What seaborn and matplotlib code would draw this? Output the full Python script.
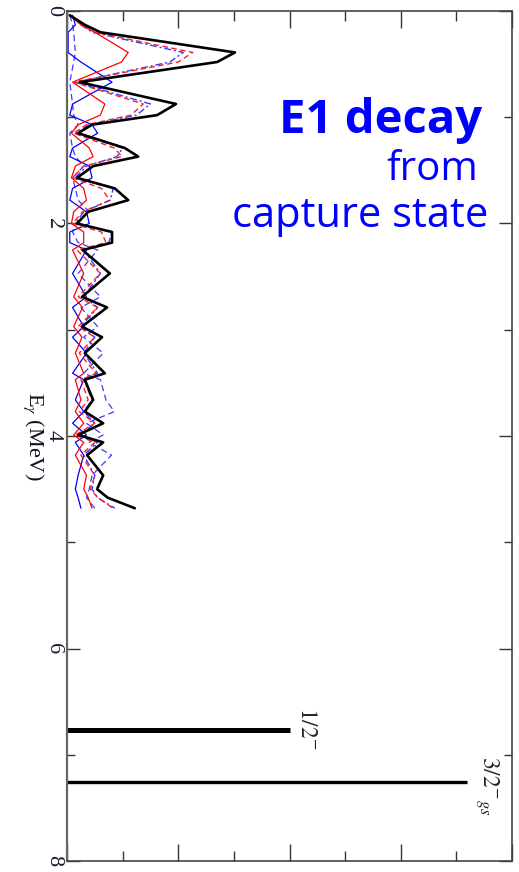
import matplotlib
matplotlib.use("Agg")
import matplotlib.pyplot as plt
import pandas as pd
import seaborn as sns
from matplotlib.ticker import MultipleLocator, FormatStrFormatter

sns.set_style("ticks")
plt.rcParams["font.family"] = ["Liberation Serif", "DejaVu Serif"]
plt.rcParams["mathtext.fontset"] = "stix"

# Gamma energies (MeV) at which the E1 strength components are tabulated
e_gamma = [0.04, 0.13, 0.20, 0.39, 0.48, 0.67, 0.875, 0.98, 1.07, 1.15,
           1.29, 1.37, 1.46, 1.57, 1.67, 1.78, 1.89, 2.00, 2.08, 2.18,
           2.25, 2.47, 2.69, 2.79, 2.97, 3.07, 3.22, 3.41, 3.47, 3.66,
           3.77, 3.88, 3.99, 4.06, 4.18, 4.37, 4.50, 4.58, 4.68]

# Total decay intensity (arb. units)
total = [0.05, 0.32, 0.60, 3.02, 2.70, 0.23, 1.96, 1.62, 0.45, 0.20,
         1.04, 1.28, 0.47, 0.18, 0.86, 1.10, 0.38, 0.18, 0.81, 0.81,
         0.28, 0.77, 0.27, 0.72, 0.27, 0.63, 0.32, 0.68, 0.32, 0.47,
         0.32, 0.65, 0.20, 0.65, 0.36, 0.65, 0.54, 0.73, 1.22]

# Partial contributions
red_solid = [0.05, 0.25, 0.50, 1.10, 0.98, 0.10, 0.68, 0.60, 0.20, 0.08,
             0.40, 0.47, 0.15, 0.08, 0.30, 0.35, 0.12, 0.08, 0.30, 0.30,
             0.10, 0.30, 0.12, 0.28, 0.12, 0.27, 0.15, 0.30, 0.15, 0.25,
             0.15, 0.30, 0.12, 0.30, 0.15, 0.35, 0.30, 0.38, 0.45]
red_dashed = [0.05, 0.28, 0.50, 2.26, 2.00, 0.12, 1.37, 1.15, 0.35, 0.12,
              0.85, 0.99, 0.30, 0.10, 0.62, 0.77, 0.28, 0.10, 0.62, 0.70,
              0.18, 0.60, 0.20, 0.55, 0.20, 0.50, 0.22, 0.52, 0.25, 0.38,
              0.22, 0.50, 0.15, 0.50, 0.25, 0.50, 0.42, 0.55, 0.83]
blue_solid = [0.10, 0.15, 0.02, 0.02, 0.25, 0.81, 0.10, 0.05, 0.45, 0.55,
              0.10, 0.05, 0.40, 0.45, 0.10, 0.05, 0.35, 0.40, 0.05, 0.05,
              0.35, 0.10, 0.35, 0.10, 0.30, 0.10, 0.35, 0.10, 0.30, 0.15,
              0.30, 0.10, 0.35, 0.15, 0.30, 0.20, 0.15, 0.20, 0.25]
blue_dashdot = [0.05, 0.25, 0.45, 2.09, 1.85, 0.15, 1.50, 1.25, 0.40, 0.15,
                1.00, 0.90, 0.35, 0.15, 0.83, 0.78, 0.30, 0.15, 0.81, 0.75,
                0.30, 0.60, 0.30, 0.55, 0.25, 0.50, 0.30, 0.55, 0.30, 0.45,
                0.30, 0.50, 0.25, 0.55, 0.30, 0.50, 0.45, 0.55, 0.86]
blue_dashed = [0.05, 0.10, 0.12, 0.15, 0.12, 0.05, 0.10, 0.12, 0.20, 0.05,
               0.10, 0.15, 0.30, 0.10, 0.15, 0.20, 0.40, 0.15, 0.10, 0.20,
               0.55, 0.20, 0.60, 0.25, 0.55, 0.30, 0.65, 0.30, 0.60, 0.70,
               0.85, 0.35, 0.65, 0.40, 0.80, 0.45, 0.40, 0.35, 0.50]

# Final levels populated by the decay
level_energy = [6.77, 7.26]
level_strength = [4.01, 7.19]
level_labels = [r"$\mathit{1/2}^{-}$", r"$\mathit{3/2}^{-}{}_{\mathit{gs}}$"]

spectra = pd.DataFrame({"E": e_gamma, "total": total, "red_solid": red_solid,
                        "red_dashed": red_dashed, "blue_solid": blue_solid,
                        "blue_dashdot": blue_dashdot, "blue_dashed": blue_dashed})

W, H = 519, 872
fig = plt.figure(figsize=(W / 100, H / 100), dpi=100)
ax = fig.add_axes([67 / W, 11 / H, (512 - 67) / W, (861 - 11) / H])

styles = [
    ("blue_dashed", "#3a3aff", (0, (5, 3)), 0.9),
    ("blue_solid", "#0000ff", "-", 0.9),
    ("blue_dashdot", "#3a3aff", (0, (5, 2, 1.5, 2)), 1.0),
    ("red_solid", "#ff0000", "-", 0.9),
    ("red_dashed", "#ff2020", (0, (4, 2.5)), 1.0),
    ("total", "#000000", "-", 1.9),
]
for col, color, ls, lw in styles:
    sns.lineplot(data=spectra, x=col, y="E", sort=False, estimator=None,
                 color=color, linestyle=ls, linewidth=lw, ax=ax)

ax.hlines(level_energy, 0, level_strength, colors="black",
          linewidths=[3.6, 2.4])
ax.text(4.3, level_energy[0] - 0.02, level_labels[0], rotation=-90,
        ha="center", va="center", fontsize=17)
ax.text(7.55, level_energy[1] + 0.03, level_labels[1], rotation=-90,
        ha="center", va="center", fontsize=17)

ax.set_xlim(0, 8)
ax.set_ylim(8, 0)
ax.set_xlabel("")
ax.xaxis.set_major_locator(MultipleLocator(2))
ax.xaxis.set_minor_locator(MultipleLocator(1))
ax.yaxis.set_major_locator(MultipleLocator(2))
ax.yaxis.set_minor_locator(MultipleLocator(1))
ax.yaxis.set_major_formatter(FormatStrFormatter("%d"))

for s in ax.spines.values():
    s.set_color("#444444")
    s.set_linewidth(1.2)
ax.spines["left"].set_color("#666666")
ax.spines["left"].set_linewidth(1.6)

ax.tick_params(axis="both", which="both", direction="in", top=True,
               right=True, width=1.0, color="#333333")
ax.tick_params(axis="x", which="major", length=12.5)
ax.tick_params(axis="x", which="minor", length=7)
ax.tick_params(axis="y", which="major", length=9.5)
ax.tick_params(axis="y", which="minor", length=5.5)
ax.tick_params(axis="x", labelbottom=False)
ax.tick_params(axis="y", which="major", labelsize=16, labelrotation=-90,
               pad=2.8, labelcolor="#1a1a33")
for lab in ax.get_yticklabels():
    lab.set_va("center")
    lab.set_ha("right")

ax.set_ylabel(r"E$_{\gamma}$ (MeV)", rotation=-90, fontsize=16,
              va="center", ha="center", color="#111122")
ax.yaxis.set_label_coords((33 - 67) / 445, 0.5)

blue = "#0000ff"
fig.text(482 / W, 1 - 133 / H, "E1 decay", ha="right", va="baseline",
         fontsize=34, fontweight="bold", color=blue, family="Open Sans")
fig.text(478 / W, 1 - 180 / H, "from", ha="right", va="baseline",
         fontsize=29, color=blue, family="Open Sans")
fig.text(488 / W, 1 - 227 / H, "capture state", ha="right", va="baseline",
         fontsize=30, color=blue, family="Open Sans")

fig.savefig("out.png", dpi=100)
